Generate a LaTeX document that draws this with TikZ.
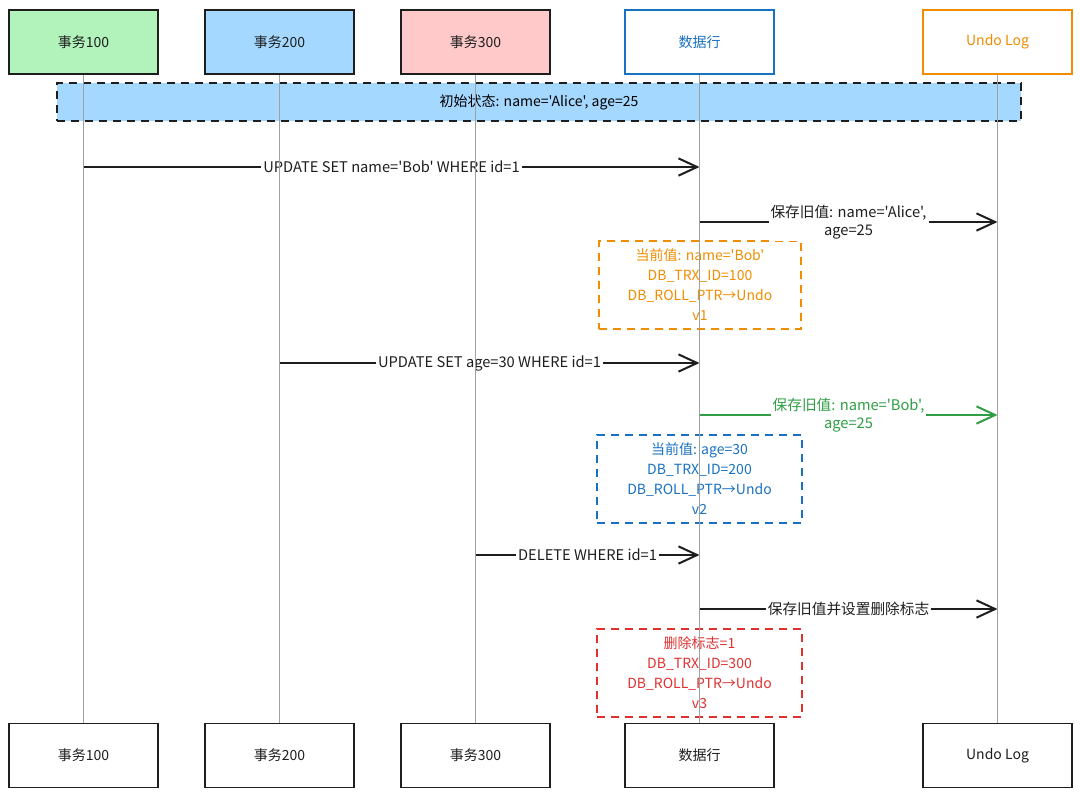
\documentclass[tikz,border=0pt]{standalone}
\usepackage{fontspec}
\setmainfont{Noto Sans CJK SC}[Ligatures=TeXOff]
\usetikzlibrary{arrows.meta}
\definecolor{ink}{HTML}{1E1E1E}
\definecolor{fgreen}{HTML}{B2F2BB}
\definecolor{fblue}{HTML}{A5D8FF}
\definecolor{fred}{HTML}{FFC9C9}
\definecolor{cblue}{HTML}{1971C2}
\definecolor{corange}{HTML}{F08C00}
\definecolor{cgreen}{HTML}{2F9E44}
\definecolor{cred}{HTML}{E03131}
\definecolor{lgray}{HTML}{A0A0A0}
\tikzset{
  actor/.style={draw=ink, line width=1.4pt, minimum width=111.75pt, minimum height=48pt, inner sep=0pt, fill=white, text=ink},
  notebox/.style={line width=1.4pt, dash pattern=on 6pt off 4.5pt, align=center, inner sep=0pt, font=\fontsize{10.5}{15}\selectfont},
  msg/.style={draw=ink, line width=1.5pt, -{Straight Barb[length=14pt,width=13pt,line width=1.5pt]}},
  lbl/.style={fill=white, inner sep=1.5pt, align=center, text=ink, font=\fontsize{11}{14}\selectfont},
  life/.style={draw=lgray, line width=0.6pt}
}
\begin{document}
\begin{tikzpicture}[x=0.75pt,y=-0.75pt,font=\fontsize{10.5}{14}\selectfont]
\useasboundingbox (0,0) rectangle (1080,797);
% top actors
\node[actor, fill=fgreen] (t1) at (83.5,42) {事务100};
\node[actor, fill=fblue] (t2) at (279.5,42) {事务200};
\node[actor, fill=fred] (t3) at (475.5,42) {事务300};
\node[actor, draw=cblue, text=cblue] (t4) at (699.5,42) {数据行};
\node[actor, draw=corange, text=corange] (t5) at (997.5,42) {Undo Log};
% bottom actors
\node[actor] (b1) at (83.5,755.5) {事务100};
\node[actor] (b2) at (279.5,755.5) {事务200};
\node[actor] (b3) at (475.5,755.5) {事务300};
\node[actor] (b4) at (699.5,755.5) {数据行};
\node[actor] (b5) at (997.5,755.5) {Undo Log};
% initial state
\node[notebox, draw=ink, fill=fblue, minimum width=723pt, minimum height=28.5pt] (init) at (539,102) {初始状态: name='Alice', age=25};
% notes
\node[notebox, draw=corange, text=corange, minimum width=151.5pt, minimum height=66pt] (n1) at (700,285)
  {当前值: name='Bob'\\DB\_TRX\_ID=100\\DB\_ROLL\_PTR→Undo\\v1};
\node[notebox, draw=cblue, text=cblue, minimum width=153.75pt, minimum height=66pt] (n2) at (699.5,479)
  {当前值: age=30\\DB\_TRX\_ID=200\\DB\_ROLL\_PTR→Undo\\v2};
\node[notebox, draw=cred, text=cred, minimum width=153.75pt, minimum height=66pt] (n3) at (699.5,673)
  {删除标志=1\\DB\_TRX\_ID=300\\DB\_ROLL\_PTR→Undo\\v3};
% message rows
\coordinate (r1) at (0,167);
\coordinate (r2) at (0,222);
\coordinate (r3) at (0,363);
\coordinate (r4) at (0,415);
\coordinate (r5) at (0,555);
\coordinate (r6) at (0,609);
\draw[msg] (t1 |- r1) -- node[lbl] (m1) {UPDATE SET name='Bob' WHERE id=1} (t4 |- r1);
\draw[msg] (t4 |- r2) -- node[lbl] (m2) {保存旧值: name='Alice',\\age=25} (t5 |- r2);
\draw[msg] (t2 |- r3) -- node[lbl] (m3) {UPDATE SET age=30 WHERE id=1} (t4 |- r3);
\draw[msg, draw=cgreen] (t4 |- r4) -- node[lbl, text=cgreen] (m4) {保存旧值: name='Bob',\\age=25} (t5 |- r4);
\draw[msg] (t3 |- r5) -- node[lbl] (m5) {DELETE WHERE id=1} (t4 |- r5);
\draw[msg] (t4 |- r6) -- node[lbl] (m6) {保存旧值并设置删除标志} (t5 |- r6);
% lifelines
\draw[life] (t1.south) -- (b1.north);
\draw[life] (t2.south) -- (b2.north);
\draw[life] (t3.south) -- (b3.north);
\draw[life] (t4.south) -- (b4.north);
\draw[life] (t5.south) -- (b5.north);
\end{tikzpicture}
\end{document}
